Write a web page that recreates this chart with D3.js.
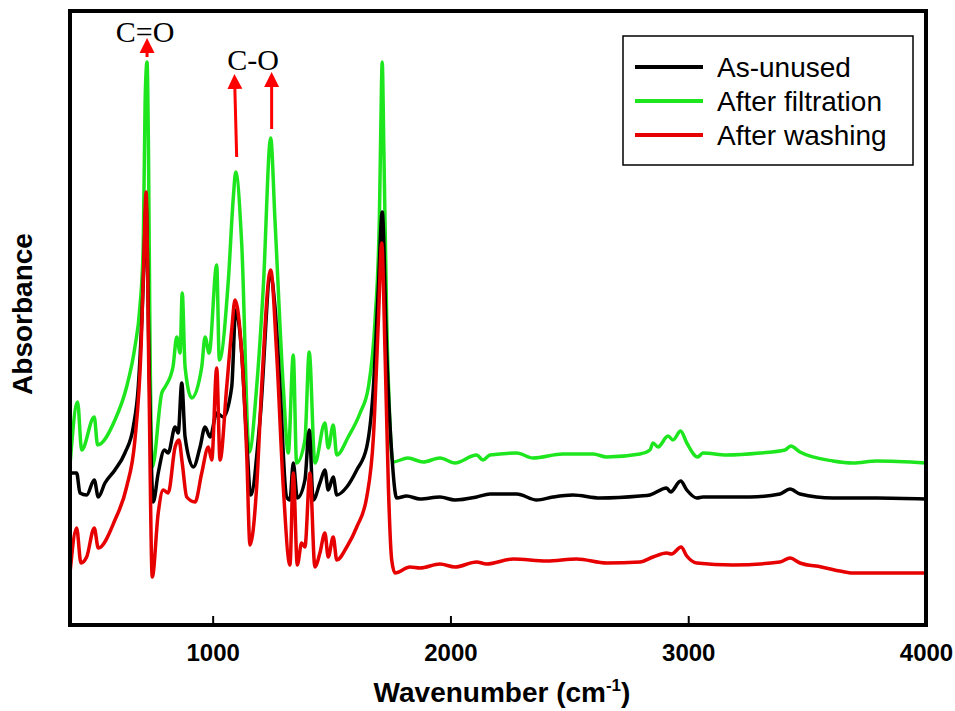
<!DOCTYPE html>
<html>
<head>
<meta charset="utf-8">
<script src="https://cdn.jsdelivr.net/npm/d3@7"></script>
<style>
  body { margin: 0; background: #fff; }
  svg { display: block; }
  .tick-label { font-family: "Liberation Sans", Arial, sans-serif; font-weight: bold; font-size: 24px; }
  .axis-title { font-family: "Liberation Sans", Arial, sans-serif; font-weight: bold; font-size: 28px; }
  .legend-text { font-family: "Liberation Sans", Arial, sans-serif; font-size: 28px; }
  .note { font-family: "Liberation Serif", "Times New Roman", serif; font-size: 30px; }
</style>
</head>
<body>
<svg id="chart" width="955" height="711"></svg>
<script>
// x ticks
const xTicks = [1000, 2000, 3000, 4000];

// series labels, in legend order
const seriesNames = ["As-unused", "After filtration", "After washing"];

// spectra: [wavenumber, absorbance (a.u.)]
const asUnused = [
  [400, 1.52], [428, 1.52], [442, 1.32], [470, 1.30], [502, 1.45], [519, 1.28], [547, 1.42],
  [589, 1.55], [631, 1.72], [666, 1.98], [687, 2.38], [702, 3.05], [710, 3.55], [720, 4.20],
  [734, 2.45], [750, 1.23], [771, 1.52], [797, 1.75], [813, 1.72], [842, 1.98], [855, 1.92],
  [870, 2.42], [884, 1.88], [919, 1.58], [947, 1.78], [968, 1.98], [989, 1.88], [1017, 2.12],
  [1045, 2.08], [1080, 2.38], [1097, 3.15], [1122, 2.72], [1143, 1.85], [1160, 1.30],
  [1199, 2.05], [1244, 3.50], [1262, 3.18], [1283, 2.38], [1311, 1.28], [1325, 1.25],
  [1339, 1.62], [1356, 1.27], [1388, 1.45], [1406, 1.95], [1423, 1.25], [1451, 1.42],
  [1472, 1.55], [1486, 1.35], [1507, 1.48], [1522, 1.30], [1564, 1.38], [1606, 1.55],
  [1648, 1.78], [1676, 2.38], [1697, 3.38], [1713, 4.13], [1732, 2.72], [1753, 1.72],
  [1774, 1.27], [1816, 1.29], [1872, 1.26], [1956, 1.28], [2019, 1.25], [2110, 1.28],
  [2166, 1.31], [2279, 1.31], [2363, 1.25], [2431, 1.28], [2515, 1.30], [2629, 1.27],
  [2797, 1.29], [2839, 1.30], [2909, 1.37], [2926, 1.33], [2968, 1.44], [2994, 1.35],
  [3036, 1.27], [3062, 1.28], [3260, 1.28], [3386, 1.31], [3428, 1.36], [3470, 1.31],
  [3609, 1.27], [3793, 1.27], [4000, 1.26]
];

const afterFiltration = [
  [400, 1.60], [432, 2.23], [449, 1.75], [502, 2.08], [516, 1.80], [589, 2.05], [638, 2.38],
  [673, 2.78], [694, 3.18], [708, 3.78], [716, 5.25], [724, 5.63], [730, 4.75], [736, 2.95],
  [746, 1.58], [786, 2.32], [800, 2.38], [833, 2.58], [849, 2.88], [863, 2.72], [872, 3.32],
  [884, 2.58], [912, 2.27], [954, 2.58], [968, 2.88], [985, 2.72], [1017, 3.60], [1028, 2.65],
  [1066, 3.45], [1087, 4.28], [1097, 4.53], [1122, 3.82], [1154, 1.73], [1185, 2.38],
  [1213, 3.38], [1244, 4.87], [1262, 4.05], [1297, 2.38], [1318, 1.72], [1339, 2.70],
  [1353, 1.62], [1388, 1.85], [1406, 2.73], [1430, 1.62], [1472, 2.02], [1486, 1.77],
  [1507, 2.00], [1522, 1.70], [1570, 1.88], [1620, 2.12], [1655, 2.38], [1683, 3.05],
  [1701, 4.05], [1707, 4.95], [1713, 5.63], [1720, 4.75], [1732, 3.05], [1745, 2.05],
  [1758, 1.63], [1821, 1.67], [1885, 1.63], [1956, 1.67], [2019, 1.62], [2110, 1.70],
  [2137, 1.65], [2166, 1.70], [2279, 1.72], [2347, 1.67], [2473, 1.71], [2600, 1.71],
  [2657, 1.68], [2797, 1.71], [2839, 1.75], [2852, 1.82], [2873, 1.78], [2915, 1.89],
  [2936, 1.85], [2968, 1.94], [2994, 1.82], [3040, 1.68], [3062, 1.72], [3162, 1.70],
  [3302, 1.72], [3407, 1.75], [3431, 1.79], [3470, 1.73], [3609, 1.64], [3693, 1.62],
  [3793, 1.64], [4000, 1.62]
];

const afterWashing = [
  [400, 0.52], [428, 0.97], [446, 0.62], [470, 0.68], [502, 0.97], [519, 0.77], [589, 1.05],
  [638, 1.38], [673, 1.85], [699, 2.78], [710, 3.62], [720, 4.33], [732, 2.45], [746, 0.48],
  [771, 1.12], [792, 1.35], [813, 1.32], [842, 1.78], [858, 1.85], [872, 1.62], [891, 1.28],
  [926, 1.23], [954, 1.52], [982, 1.78], [996, 1.65], [1017, 2.57], [1031, 1.65],
  [1059, 2.38], [1080, 2.95], [1094, 3.25], [1122, 2.72], [1143, 1.72], [1157, 0.80],
  [1185, 1.38], [1206, 2.38], [1244, 3.55], [1269, 2.72], [1297, 1.38], [1325, 0.60],
  [1339, 1.52], [1356, 0.60], [1374, 0.82], [1388, 0.78], [1409, 1.52], [1430, 0.58],
  [1451, 0.72], [1472, 0.92], [1486, 0.68], [1507, 0.88], [1522, 0.65], [1564, 0.78],
  [1606, 0.98], [1648, 1.28], [1676, 1.88], [1697, 3.05], [1711, 3.82], [1725, 2.72],
  [1739, 1.38], [1753, 0.65], [1767, 0.52], [1830, 0.58], [1872, 0.57], [1956, 0.61],
  [2019, 0.58], [2110, 0.63], [2152, 0.61], [2264, 0.66], [2405, 0.64], [2531, 0.66],
  [2657, 0.62], [2797, 0.63], [2852, 0.68], [2909, 0.72], [2930, 0.71], [2970, 0.78],
  [2994, 0.69], [3036, 0.62], [3188, 0.60], [3386, 0.63], [3428, 0.67], [3470, 0.62],
  [3560, 0.58], [3638, 0.54], [3693, 0.52], [4000, 0.52]
];

// band assignments: label position and arrows, in data units
const bandLabels = [
  { text: "C=O", wn: 716, a: 5.83 },
  { text: "C-O", wn: 1170, a: 5.55 }
];
const bandArrows = [
  { wn0: 724, a0: 5.68, wn1: 724, a1: 5.87 },
  { wn0: 1101, a0: 4.68, wn1: 1093, a1: 5.51 },
  { wn0: 1248, a0: 4.96, wn1: 1248, a1: 5.53 }
];

const W = 955, H = 711;
const M = { top: 11, right: 29, bottom: 86, left: 70 };

const svg = d3.select("#chart");

const x = d3.scaleLinear().domain([400, 4000]).range([M.left, W - M.right]);
const y = d3.scaleLinear().domain([0, 6.14]).range([H - M.bottom, M.top]);

const colors = { "As-unused": "#000000", "After filtration": "#1ee61e", "After washing": "#e60000" };
const spectra = {
  "As-unused": asUnused,
  "After filtration": afterFiltration,
  "After washing": afterWashing
};

const line = d3.line()
  .x(d => x(d[0]))
  .y(d => y(d[1]))
  .curve(d3.curveMonotoneX);

svg.append("defs").append("clipPath").attr("id", "plot-clip")
  .append("rect")
  .attr("x", M.left).attr("y", M.top)
  .attr("width", W - M.left - M.right).attr("height", H - M.top - M.bottom);

// green drawn first, red ends on top
const drawOrder = ["After filtration", "As-unused", "After washing"];
svg.append("g").attr("clip-path", "url(#plot-clip)")
  .selectAll("path")
  .data(drawOrder)
  .enter()
  .append("path")
  .attr("d", k => line(spectra[k]))
  .attr("fill", "none")
  .attr("stroke", k => colors[k])
  .attr("stroke-width", 3.5)
  .attr("stroke-linejoin", "round");

// bottom axis, ticks pointing in
const xAxis = svg.append("g")
  .attr("transform", `translate(0, ${H - M.bottom})`)
  .call(d3.axisBottom(x).tickValues(xTicks).tickFormat(d3.format("d"))
    .tickSizeInner(-9).tickSizeOuter(0));
xAxis.select(".domain").remove();
xAxis.selectAll(".tick line").attr("stroke", "#000").attr("stroke-width", 2);
xAxis.selectAll(".tick text")
  .attr("class", "tick-label")
  .attr("fill", "#000")
  .attr("y", 36)
  .attr("dy", 0);

// frame
svg.append("rect")
  .attr("x", M.left).attr("y", M.top)
  .attr("width", W - M.left - M.right).attr("height", H - M.top - M.bottom)
  .attr("fill", "none").attr("stroke", "#000").attr("stroke-width", 4);

// axis titles
const xt = svg.append("text")
  .attr("class", "axis-title")
  .attr("x", 502).attr("y", 702)
  .attr("text-anchor", "middle");
xt.append("tspan").text("Wavenumber (cm");
xt.append("tspan").attr("font-size", 17).attr("dy", -11).text("-1");
xt.append("tspan").attr("dy", 11).text(")");

svg.append("text")
  .attr("class", "axis-title")
  .attr("transform", "translate(32, 314) rotate(-90)")
  .attr("text-anchor", "middle")
  .text("Absorbance");

// legend
const legend = svg.append("g");
legend.append("rect")
  .attr("x", 623).attr("y", 36).attr("width", 290).attr("height", 129)
  .attr("fill", "#fff").attr("stroke", "#000").attr("stroke-width", 1.5);
const rows = legend.selectAll(".row")
  .data(seriesNames)
  .enter()
  .append("g")
  .attr("class", "row")
  .attr("transform", (d, i) => `translate(635, ${67 + i * 34})`);
rows.append("line")
  .attr("x1", 0).attr("x2", 68)
  .attr("stroke", d => colors[d]).attr("stroke-width", 4);
rows.append("text")
  .attr("class", "legend-text")
  .attr("x", 82).attr("y", 10)
  .text(d => d);

// band annotations
const red = "#ff0000";
svg.append("defs").append("marker")
  .attr("id", "head")
  .attr("viewBox", "0 0 10 10")
  .attr("refX", 2).attr("refY", 5)
  .attr("markerUnits", "userSpaceOnUse")
  .attr("markerWidth", 15).attr("markerHeight", 17)
  .attr("orient", "auto")
  .append("path")
  .attr("d", "M0,0 L10,5 L0,10 Z")
  .attr("fill", red);

svg.selectAll(".arrow")
  .data(bandArrows)
  .enter()
  .append("line")
  .attr("class", "arrow")
  .attr("x1", d => x(d.wn0)).attr("y1", d => y(d.a0))
  .attr("x2", d => x(d.wn1)).attr("y2", d => y(d.a1) + 12)
  .attr("stroke", red).attr("stroke-width", 3)
  .attr("marker-end", "url(#head)");

svg.selectAll(".note")
  .data(bandLabels)
  .enter()
  .append("text")
  .attr("class", "note")
  .attr("x", d => x(d.wn)).attr("y", d => y(d.a))
  .attr("text-anchor", "middle")
  .text(d => d.text);
</script>
</body>
</html>
